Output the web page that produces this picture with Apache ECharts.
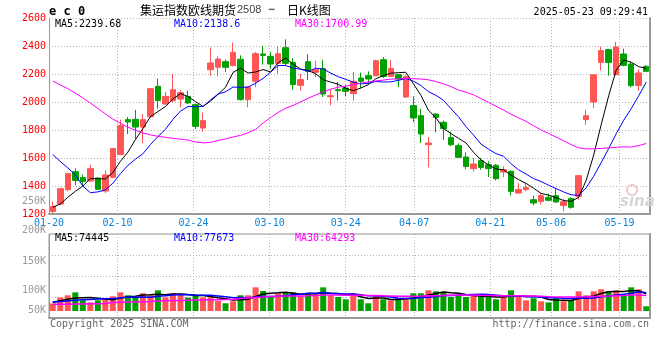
<!DOCTYPE html>
<html><head><meta charset="utf-8">
<script src="https://cdn.jsdelivr.net/npm/echarts@6/dist/echarts.min.js"></script>
<style>html,body{margin:0;padding:0;background:#fff}#c{width:660px;height:360px}</style>
</head><body><div id="c"></div>
<script>
const categories = ['01-20','01-21','01-22','01-23','01-24','01-27','02-05','02-06','02-07','02-10',
'02-11','02-12','02-13','02-14','02-17','02-18','02-19','02-20','02-21','02-24',
'02-25','02-26','02-27','02-28','03-03','03-04','03-05','03-06','03-07','03-10',
'03-11','03-12','03-13','03-14','03-17','03-18','03-19','03-20','03-21','03-24',
'03-25','03-26','03-27','03-28','03-31','04-01','04-02','04-03','04-07','04-08',
'04-09','04-10','04-11','04-14','04-15','04-16','04-17','04-18','04-21','04-22',
'04-23','04-24','04-25','04-28','04-29','04-30','05-06','05-07','05-08','05-09',
'05-12','05-13','05-14','05-15','05-16','05-19','05-20','05-21','05-22','05-23'];

const openP = [1218,1271,1374,1502,1460,1436,1457,1364,1462,1624,
1874,1876,1821,1895,2112,1986,2009,2021,2040,1981,
1814,2231,2248,2288,2260,2305,2017,2148,2343,2326,
2276,2388,2283,2119,2288,2212,2238,2038,2088,2100,
2060,2171,2188,2188,2302,2183,2195,2036,1974,1902,
1695,1914,1855,1745,1688,1607,1524,1581,1552,1548,
1500,1505,1350,1374,1302,1290,1319,1331,1260,1310,
1326,1874,2000,2283,2374,2195,2343,2271,2117,2255];
const closeP = [1254,1381,1488,1440,1433,1524,1376,1479,1667,1831,
1857,1821,1874,2095,2010,2040,2088,2067,1993,1826,
1867,2279,2307,2248,2355,2017,2107,2345,2333,2271,
2345,2276,2124,2160,2219,2231,2057,2045,2081,2076,
2148,2148,2164,2295,2183,2240,2164,2181,1886,1771,
1707,1890,1810,1695,1605,1540,1557,1533,1524,1452,
1517,1362,1374,1390,1279,1331,1298,1286,1288,1248,
1474,1902,2195,2367,2283,2393,2262,2117,2207,2219];
const lowP = [1207,1262,1362,1405,1405,1430,1371,1350,1455,1620,
1771,1738,1705,1888,1952,1980,1995,1961,1985,1807,
1786,2188,2183,2214,2255,2010,1962,2105,2267,2236,
2202,2260,2088,2081,2157,2176,2036,1976,2010,2043,
2010,2098,2129,2183,2171,2178,2105,2029,1855,1707,
1533,1783,1729,1683,1600,1521,1505,1517,1464,1440,
1464,1333,1345,1362,1262,1267,1290,1280,1219,1238,
1302,1838,1957,2226,2188,2190,2255,2105,2081,2214];
const highP = [1290,1388,1492,1526,1481,1552,1462,1512,1670,1874,
1893,1943,1914,2098,2167,2071,2200,2085,2080,1990,
1924,2390,2326,2302,2424,2333,2110,2357,2402,2357,
2398,2448,2314,2200,2340,2295,2302,2088,2143,2124,
2214,2210,2219,2302,2321,2300,2200,2195,2040,1950,
1750,1920,1867,1790,1705,1640,1600,1600,1576,1557,
1540,1512,1421,1421,1331,1350,1345,1386,1310,1320,
1476,1945,2200,2395,2380,2429,2381,2286,2231,2262];

const ma5 = [1248,1271,1319,1362,
1399.2,1453.2,1452.2,1450.4,1495.8,1575.4,1642,1731,1810,1895.6,
1931.4,1968,2021.4,2060,2039.6,2002.8,1968.2,2006.4,2054.4,2105.4,
2211.2,2241.2,2206.8,2214.4,2231.4,2214.6,2280.2,2314,2269.8,2235.2,
2224.8,2202,2158.2,2142.4,2126.6,2098,2081.4,2099.6,2123.4,2166.2,
2187.6,2206,2209.2,2212.6,2130.8,2048.4,1941.8,1887,1812.8,1774.6,
1741.4,1708,1641.4,1586,1551.8,1521.2,1516.6,1477.6,1445.8,1419,
1384.4,1347.2,1334.4,1316.8,1296.4,1290.2,1318.8,1439.6,1621.4,1837.2,
2044.2,2228,2300,2284.4,2252.4,2239.6];
const ma10 = [1625,1575,1530,1480,1400,1352,1358,1372,1420,
1487.3,1547.6,1591.6,1630.2,1695.7,1753.4,1805,1876.2,1935,1967.6,
1967.1,1968.1,2013.9,2057.2,2072.5,2107,2104.7,2106.6,2134.4,2168.4,
2212.9,2260.7,2260.4,2242.1,2233.3,2219.7,2241.1,2236.1,2206.1,2180.9,
2161.4,2141.7,2128.9,2132.9,2146.4,2142.8,2143.7,2154.4,2168,2148.5,
2118,2073.9,2048.1,2012.7,1952.7,1894.9,1824.9,1764.2,1699.4,1663.2,
1631.3,1612.3,1559.5,1515.9,1485.4,1452.8,1431.9,1406,1381.3,1357.7,
1337.3,1333,1387,1469.1,1566.8,1667.2,1773.4,1869.8,1952.9,2044.8,
2141.9];
const ma30 = [2150,2122,2095,2063,2030,1992,1955,1915,1878,1848,
1820,1798,1780,1765,1755,1748,1740,1735,1728,1715,
1708,1712,1725,1737,1750,1762,1780,1805,1850,
1889.1,1925.5,1955.3,1976.5,2000.5,2026.7,2050.3,2073,2091.8,2105.6,
2113.8,2123.5,2134.4,2144.1,2150.7,2156.5,2163.2,2165.7,2169.5,2165.9,
2164.1,2158.8,2145.8,2129.2,2110.8,2085.8,2069.9,2051.6,2024.5,1997.5,
1970.2,1942.6,1912.2,1887.2,1861.5,1830.2,1800.2,1774.9,1749.6,1723.1,
1695.5,1673.1,1664.9,1665.9,1668.3,1671.6,1676.7,1680,1677.9,1688.6,
1703.5];

// volume in thousands (K)
const volumeK = [32,58,66.7,79.2,45.4,36.7,45.4,49.7,62.5,79.2,
66.7,57,75.3,66.7,87.9,58,75.3,71,57,66.7,
58,58,42.5,32.8,41.2,66.7,66.7,100.5,85,59.5,
75.3,79.2,79.2,62.5,75.3,71,100.5,66.7,59.5,49.7,
75.3,49.7,32.8,66.7,49.7,45.4,49.7,49.7,75.3,75.3,
87.9,83.7,79.2,59.5,66.7,59.5,66.7,59.5,59.5,49.7,
59.5,87.9,66.7,45.4,54.1,41.2,36.7,58,41.2,45.4,
83.7,66.7,83.7,92.2,83.7,87.9,66.7,100.5,92.2,20];
const volMa5 = [37,44,50,55,
56.3,57.2,54.7,51.3,47.9,54.7,60.7,63,68.1,69,
70.7,69,72.6,71.8,69.8,65.6,65.6,62.1,56.4,51.6,
46.5,48.2,50,61.6,72,75.7,77.4,79.9,75.6,71.1,
74.3,73.4,77.7,75.2,74.6,69.5,70.3,60.2,53.4,54.8,
54.8,48.9,48.9,52.2,54,59.1,67.6,74.4,80.3,77.1,
75.4,69.7,66.3,62.4,62.4,59,59,63.2,64.7,61.8,
62.7,59.1,48.8,47.1,46.2,44.5,53,59,64.1,74.3,
82,82.8,82.8,86.2,86.2,73.5];
const volMa10 = [38,40,43,46,48,49,51,52,53,
55.5,59,58.9,59.7,58.5,62.7,64.8,67.8,70,69.4,
68.2,67.3,67.4,64.1,60.7,56,56.9,56.1,59,61.8,
61.1,62.8,64.9,68.6,71.6,75,75.4,78.8,75.4,72.9,
71.9,71.9,68.9,64.3,64.7,62.2,59.6,54.5,52.8,54.4,
57,58.2,61.6,66.3,65.5,67.2,68.7,70.4,71.3,69.8,
67.2,64.4,64.8,63.5,62.1,60.9,59,56,55.9,54,
53.6,56,53.9,55.6,60.3,63.3,67.9,70.9,75.2,80.3,
77.7];
const volMa30 = [29,29,29,30,30,31,31,32,36,37,
38,38,39,40,43,44,45,45,46,47,
47,48,48,49,50,53,55,57,59,
61.6,63,63.7,64.1,63.6,64.6,65.7,67.6,68.1,68,
67.1,67.3,67.1,65.7,65.7,64.4,64,63.1,62.4,63,
63.3,64.3,65.1,66.4,67.3,68.1,67.9,67.9,66.5,65.7,
65.4,64.8,65.1,64.7,64.1,63.4,62.4,60.3,60,59.4,
59.3,59.5,60.1,61.8,62.6,63.8,65.2,65.8,67.5,68,
66.2];

const dateLabelIdx = [0,9,19,29,39,48,58,66,75];
const priceAxis = {min:1200, max:2600, interval:200};
const volTickLabels = ['250K','200K','150K','100K','50K'];
const volTickLabelY = [201,230,261,290,310];
const priceLegend = ['MA5:2239.68','MA10:2138.6','MA30:1700.99'];
const volLegend = ['MA5:74445','MA10:77673','MA30:64293'];
const legendX = [55,174,295];
const maColors = ['#000000','#0000ff','#ff00ff'];

const UP = '#ff5555', DOWN = '#00a000';
const MONO = '"DejaVu Sans Mono", "Liberation Mono", monospace';
const dotted = {color:'#b4b4b4', type:[1,2], width:1};
const showIdx = (i) => dateLabelIdx.indexOf(i) >= 0;

const candleData = categories.map((d,i) => [openP[i], closeP[i], lowP[i], highP[i]]);
const volData = volumeK.map((v,i) => ({value:v, itemStyle:{color: closeP[i] >= openP[i] ? UP : DOWN}}));

const graphics = [];
function txt(x, y, text, font, fill, align) {
  graphics.push({type:'text', x:x, y:y, silent:true, z:100,
    style:{text:text, font:font, fill:fill, align:align||'left', textAlign:align||'left',
      verticalAlign:'middle', textVerticalAlign:'middle'}});
}
txt(49, 12, 'e c 0', 'bold 12px ' + MONO, '#000');
txt(140, 10, '集运指数欧线期货', '12px "Noto Sans CJK SC"', '#000');
txt(237, 10, '2508', '11px "Liberation Sans", Arial', '#444');
txt(268, 10, '−', '12px "Liberation Sans", Arial', '#000');
txt(287, 10, '日K线图', '12px "Noto Sans CJK SC"', '#000');
txt(648, 12, '2025-05-23 09:29:41', '10px ' + MONO, '#000', 'right');
priceLegend.forEach((t,k) => txt(legendX[k], 24, t, '10px ' + MONO, maColors[k]));
volLegend.forEach((t,k) => txt(legendX[k], 238, t, '10px ' + MONO, maColors[k]));
volTickLabels.forEach((t,k) => txt(46, volTickLabelY[k], t, '10px ' + MONO, '#999', 'right'));
txt(50, 324, 'Copyright 2025 SINA.COM', '10px ' + MONO, '#666');
txt(649, 324, 'http://finance.sina.com.cn', '10px ' + MONO, '#666', 'right');
graphics.push({type:'circle', shape:{cx:632, cy:190, r:5}, silent:true, z:1,
  style:{fill:'none', stroke:'#f2c4c4', lineWidth:2}});
txt(620, 202, 'sina', 'italic bold 15px "DejaVu Sans"', '#d6d6d6');

function maLine(data, color, xi, yi, w) {
  return {type:'line', xAxisIndex:xi, yAxisIndex:yi, data:data, symbol:'none', showSymbol:false,
    silent:true, lineStyle:{color:color, width:w}, itemStyle:{color:color}, z:3};
}

const option = {
  animation:false,
  backgroundColor:'#ffffff',
  grid:[
    {left:49, top:18, width:601, height:196, show:false},
    {left:49, top:234, width:601, height:84, show:true, borderColor:'#999', borderWidth:1, backgroundColor:'transparent'}
  ],
  xAxis:[
    {type:'category', gridIndex:0, data:categories, boundaryGap:true, show:false},
    {type:'category', gridIndex:0, data:categories, boundaryGap:false, position:'bottom',
      axisLine:{show:true, onZero:false, lineStyle:{color:'#999', width:2}}, axisTick:{show:false},
      axisLabel:{interval:(i)=>showIdx(i), color:'#0a84dc', fontFamily:MONO, fontSize:10, margin:4},
      splitLine:{show:true, interval:(i)=>showIdx(i), lineStyle:dotted}},
    {type:'category', gridIndex:1, data:categories, boundaryGap:true, show:false},
    {type:'category', gridIndex:1, data:categories, boundaryGap:false, position:'bottom',
      axisLine:{show:true, onZero:false, lineStyle:{color:'#999', width:2}}, axisTick:{show:false},
      axisLabel:{show:false},
      splitLine:{show:true, interval:(i)=>showIdx(i), lineStyle:dotted}}
  ],
  yAxis:[
    {type:'value', gridIndex:0, min:priceAxis.min, max:priceAxis.max, interval:priceAxis.interval, position:'left',
      axisLine:{show:true, onZero:false, lineStyle:{color:'#999', width:1}}, axisTick:{show:false},
      axisLabel:{color:'#ff0000', fontFamily:MONO, fontSize:10, margin:3, formatter:(v)=>String(v)},
      splitLine:{show:true, lineStyle:dotted}},
    {type:'value', gridIndex:0, min:priceAxis.min, max:priceAxis.max, position:'right',
      axisLine:{show:true, onZero:false, lineStyle:{color:'#999', width:2}}, axisTick:{show:false},
      axisLabel:{show:false}, splitLine:{show:false}},
    {type:'value', gridIndex:1, min:-29.75, max:327.25, position:'left',
      axisLine:{show:true, onZero:false, lineStyle:{color:'#999', width:1}}, axisTick:{show:false},
      axisLabel:{show:false}, splitLine:{show:false}},
    {type:'value', gridIndex:1, min:0, max:4, interval:1, position:'right',
      axisLine:{show:true, onZero:false, lineStyle:{color:'#999', width:2}}, axisTick:{show:false},
      axisLabel:{show:false}, splitLine:{show:true, lineStyle:dotted}}
  ],
  series:[
    {type:'candlestick', xAxisIndex:0, yAxisIndex:0, data:candleData, barWidth:6, silent:true,
      itemStyle:{color:UP, color0:DOWN, borderColor:UP, borderColor0:DOWN, borderWidth:1}},
    maLine(ma5, maColors[0], 0, 0, 1),
    maLine(ma10, maColors[1], 0, 0, 1),
    maLine(ma30, maColors[2], 0, 0, 1),
    {type:'bar', xAxisIndex:2, yAxisIndex:2, data:volData, barWidth:6, silent:true},
    maLine(volMa5, maColors[0], 2, 2, 1.5),
    maLine(volMa10, maColors[1], 2, 2, 1.5),
    maLine(volMa30, maColors[2], 2, 2, 1.5)
  ],
  graphic: graphics
};
const chart = echarts.init(document.getElementById('c'), null, {renderer:'canvas'});
chart.setOption(option);
</script></body></html>
